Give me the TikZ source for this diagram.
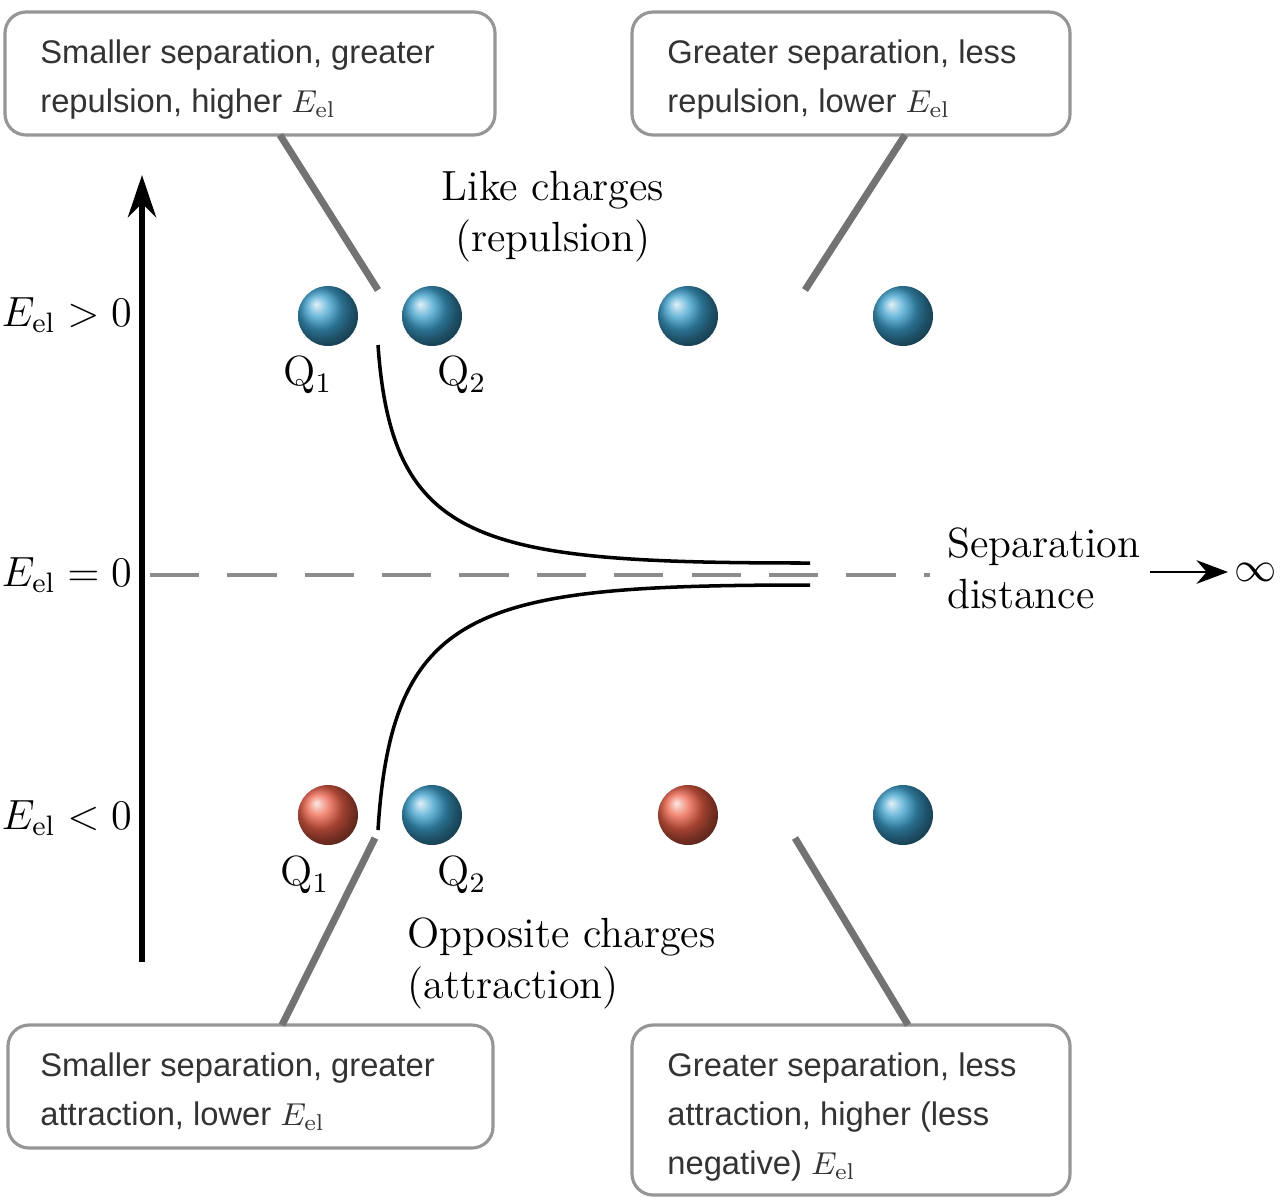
\documentclass[tikz,border=0pt]{standalone}
\usepackage{fontspec}
\setsansfont{Liberation Sans}
\usetikzlibrary{arrows.meta}
\definecolor{boxgray}{RGB}{150,150,150}
\definecolor{ballblue}{RGB}{60,160,205}
\definecolor{ballred}{RGB}{235,95,70}
\tikzset{
  notebox/.style={draw=boxgray,rounded corners=6pt,line width=0.9pt,fill=white},
  notetext/.style={font=\sffamily\fontsize{9.3}{14}\selectfont,align=left,anchor=north west,text=black!80},
  pointer/.style={draw=black!55,line width=2pt},
  lbl/.style={font=\fontsize{12}{14.5}\selectfont},
}
\begin{document}
\begin{tikzpicture}[x=0.01cm,y=-0.01cm]
        \useasboundingbox (0,0) rectangle (1283,1200);
        % boxes
        \draw[notebox] (5,12) rectangle (495,135);
        \node[notetext] (tl) at (28,27) {Smaller separation, greater\\repulsion, higher $E_{\mathrm{el}}$};
        \draw[notebox] (632,12) rectangle (1070,135);
        \node[notetext] (tr) at (655,27) {Greater separation, less\\repulsion, lower $E_{\mathrm{el}}$};
        \draw[notebox] (8,1025) rectangle (493,1148);
        \node[notetext] (bl) at (28,1040) {Smaller separation, greater\\attraction, lower $E_{\mathrm{el}}$};
        \draw[notebox] (632,1025) rectangle (1070,1195);
        \node[notetext] (br) at (655,1040) {Greater separation, less\\attraction, higher (less\\negative) $E_{\mathrm{el}}$};
        % pointers
        \draw[pointer] (280,135) -- (378,290);
        \draw[pointer] (905,135) -- (805,290);
        \draw[pointer] (282,1025) -- (375,838);
        \draw[pointer] (908,1025) -- (795,838);
        % axis
        \draw[line width=1.6pt,-{Stealth[length=12pt,width=8pt]}] (142,962) -- (142,175);
        \node[lbl,anchor=west,inner sep=0pt] (ep) at (1,315) {$E_{\mathrm{el}} > 0$};
        \node[lbl,anchor=west,inner sep=0pt] (ez) at (1,575) {$E_{\mathrm{el}} = 0$};
        \node[lbl,anchor=west,inner sep=0pt] (en) at (1,818) {$E_{\mathrm{el}} < 0$};
        \draw[black!45,line width=1pt,dash pattern=on 14pt off 8pt] (150,575) -- (930,575);
        \node[lbl,anchor=west,align=left] (sep) at (935,568) {Separation\\distance};
        \coordinate (s1) at (1150,572);
        \node[lbl,anchor=east,inner sep=1pt] (inf) at (1281,572) {$\infty$};
        \draw[-{Stealth[length=9pt]}] (s1) -- (1228,572);
        % charges
        \foreach \x in {328,432,688,903} {
          \shade[ball color=ballblue] (\x,316) circle (30);
        }
        \foreach \x/\c in {328/ballred,432/ballblue,688/ballred,903/ballblue} {
          \shade[ball color=\c] (\x,815) circle (30);
        }
        \node[lbl] (q1t) at (308,375) {Q$_1$};
        \node[lbl] (q2t) at (462,375) {Q$_2$};
        \node[lbl] (q1b) at (305,875) {Q$_1$};
        \node[lbl] (q2b) at (462,875) {Q$_2$};
        \node[lbl,align=center] (like) at (553,217) {Like charges\\(repulsion)};
        \node[lbl,align=left,anchor=west] (opp) at (395,963) {Opposite charges\\(attraction)};
        % curves
        \draw[line width=1pt] (378,345) .. controls (392,545) and (480,563) .. (810,563);
        \draw[line width=1pt] (378,830) .. controls (392,605) and (480,585) .. (810,585);
\end{tikzpicture}
\end{document}
